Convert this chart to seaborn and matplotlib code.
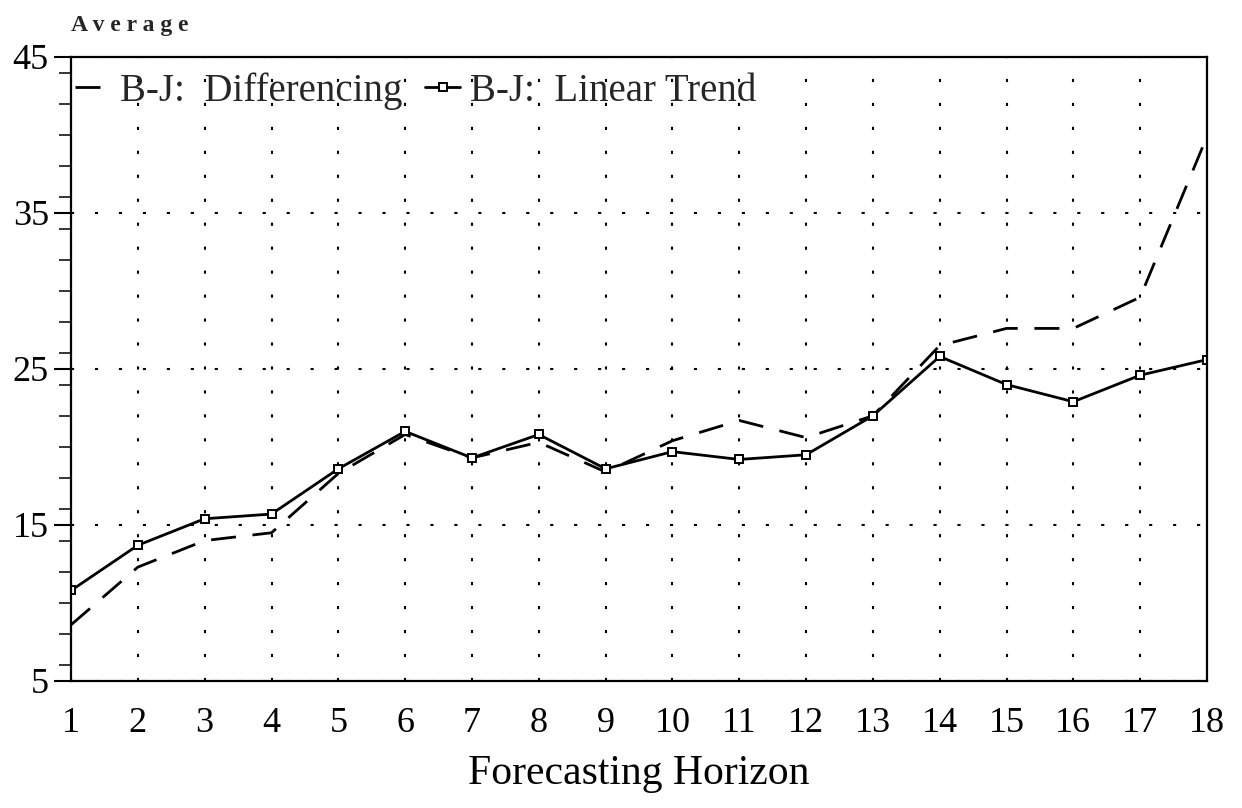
import numpy as np
import pandas as pd
import matplotlib
matplotlib.use("Agg")
import matplotlib.pyplot as plt
import seaborn as sns
from matplotlib.ticker import MultipleLocator

sns.set_theme(style="white")
plt.rcParams['font.family'] = ['Liberation Serif', 'DejaVu Serif']

# data
horizon = list(range(1, 19))
differencing = [8.6, 12.3, 14.0, 14.5, 18.3, 20.8, 19.3, 20.3, 18.4, 20.4,
                21.7, 20.6, 22.0, 26.5, 27.6, 27.6, 29.6, 39.9]
linear_trend = [10.8, 13.7, 15.4, 15.7, 18.6, 21.0, 19.3, 20.8, 18.6, 19.7,
                19.2, 19.5, 22.0, 25.8, 24.0, 22.9, 24.6, 25.6]

df = pd.DataFrame({"Horizon": horizon,
                   "B-J:  Differencing": differencing,
                   "B-J:  Linear Trend": linear_trend})

fig, ax = plt.subplots(figsize=(12.42, 8.08), dpi=100)
fig.subplots_adjust(left=0.0572, right=0.9718, top=0.9295, bottom=0.1572)

# dashed series
sns.lineplot(data=df, x="Horizon", y="B-J:  Differencing", ax=ax, color="black",
             linewidth=2.0, dashes=False, label="B-J:  Differencing")
ax.lines[-1].set_dashes((9, 6))
# solid series with small open squares
sns.lineplot(data=df, x="Horizon", y="B-J:  Linear Trend", ax=ax, color="black",
             linewidth=2.0, marker="s", markersize=6, markerfacecolor="white",
             markeredgecolor="black", markeredgewidth=1.4, label="B-J:  Linear Trend")

ax.set_xlim(1, 18)
ax.set_ylim(5, 45)
ax.set_xticks(horizon)
ax.yaxis.set_minor_locator(MultipleLocator(2))
ax.set_yticks([5, 15, 25, 35, 45])

ax.grid(True, which="major", color="black", linestyle=(0, (1.5, 10)), linewidth=1.5)
for s in ax.spines.values():
    s.set_color("black")
    s.set_linewidth(1.6)

ax.tick_params(axis="x", which="major", direction="in", length=12, width=1.5,
               labelsize=26, pad=19, colors="black")
ax.tick_params(axis="y", which="major", direction="out", length=12, width=1.5,
               labelsize=26, pad=4, colors="black", left=True)
ax.tick_params(axis="y", which="minor", direction="out", length=9, width=1.3, left=True)

ax.set_xlabel("Forecasting Horizon", fontsize=30, labelpad=10, color="black")
ax.set_ylabel("")
fig.text(0.057, 0.968, "A v e r a g e", fontsize=17, fontweight="bold",
         ha="left", va="center")

leg = ax.legend(loc="upper left", ncol=2, frameon=False, fontsize=28,
                handlelength=0.9, handletextpad=0.25, columnspacing=0.6,
                borderpad=0.1, borderaxespad=0.0, bbox_to_anchor=(0.0, 0.982))

plt.savefig("out.png", dpi=100)
